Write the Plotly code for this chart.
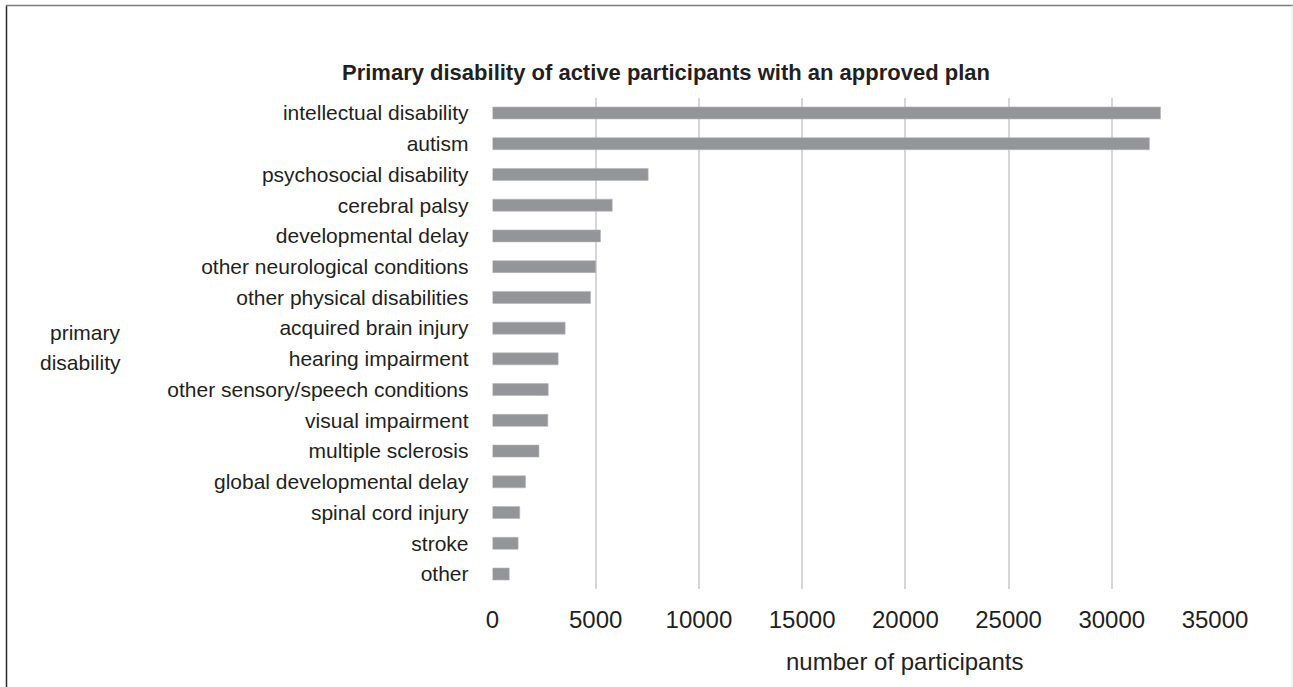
import plotly.graph_objects as go

categories = [
    "intellectual disability", "autism", "psychosocial disability", "cerebral palsy",
    "developmental delay", "other neurological conditions", "other physical disabilities",
    "acquired brain injury", "hearing impairment", "other sensory/speech conditions",
    "visual impairment", "multiple sclerosis", "global developmental delay",
    "spinal cord injury", "stroke", "other",
]
participants = [32360, 31820, 7540, 5800, 5230, 5000, 4750, 3520, 3180, 2700,
                2680, 2250, 1600, 1320, 1240, 810]
x_tickvals = [0, 5000, 10000, 15000, 20000, 25000, 30000, 35000]
x_ticktext = ["0", "5000", "10000", "15000", "20000", "25000", "30000", "35000"]

W, H = 1293, 687
PX0, PX1 = 492.5, 1215.0      # plot area, pixels
PY0, PY1 = 97.6, 589.4
FONT = "Liberation Sans, Arial, sans-serif"
TXT = "#231f20"


def px(x):
    return x / W


def py(y):
    return 1 - y / H


fig = go.Figure(go.Bar(
    y=categories, x=participants, orientation="h",
    marker=dict(color="#939598", line=dict(color="#b5b6b8", width=0.6)),
    width=0.39,
))

fig.update_layout(
    width=W, height=H,
    margin=dict(l=0, r=0, t=0, b=0, pad=0),
    paper_bgcolor="white", plot_bgcolor="white",
    showlegend=False,
    font=dict(family=FONT, color=TXT),
    xaxis=dict(
        domain=[px(PX0), px(PX1)], automargin=False,
        range=[0, 35000], tickvals=x_tickvals, ticktext=x_ticktext,
        showgrid=True, gridcolor="#d6d6d6", gridwidth=1.5,
        zeroline=False, showline=False, ticks="",
        tickfont=dict(size=24, color=TXT), ticklabelstandoff=14,
    ),
    yaxis=dict(
        domain=[py(PY1), py(PY0)], automargin=False,
        autorange="reversed", showgrid=False, zeroline=False, showline=False,
        ticks="", tickfont=dict(size=21, color=TXT), ticklabelstandoff=23,
    ),
    annotations=[
        dict(text="<b>Primary disability of active participants with an approved plan</b>",
             x=px(666), y=py(73), xref="paper", yref="paper",
             xanchor="center", yanchor="middle", showarrow=False,
             font=dict(size=22, color=TXT, family=FONT)),
        dict(text="number of participants",
             x=px(904), y=py(661), xref="paper", yref="paper",
             xanchor="center", yanchor="middle", showarrow=False,
             font=dict(size=24, color=TXT, family=FONT)),
        dict(text="primary",
             x=px(123), y=py(332), xref="paper", yref="paper",
             xanchor="right", yanchor="middle", showarrow=False,
             font=dict(size=21, color=TXT, family=FONT)),
        dict(text="disability",
             x=px(123), y=py(362), xref="paper", yref="paper",
             xanchor="right", yanchor="middle", showarrow=False,
             font=dict(size=21, color=TXT, family=FONT)),
    ],
    shapes=[
        dict(type="line", xref="paper", yref="paper",
             x0=px(6.5), x1=px(6.5), y0=py(5.5), y1=py(H + 2),
             line=dict(color="#2b2b2b", width=1.5)),
        dict(type="line", xref="paper", yref="paper",
             x0=px(6), x1=px(W + 2), y0=py(5.5), y1=py(5.5),
             line=dict(color="#7a7a7a", width=1.5)),
        dict(type="line", xref="paper", yref="paper",
             x0=px(1292), x1=px(1292), y0=py(5.5), y1=py(H + 2),
             line=dict(color="#e6e6e6", width=1)),
    ],
)

fig.write_html("out.html",
               config={"displayModeBar": False},
               post_script="document.body.style.margin='0';document.body.style.overflow='hidden';")
